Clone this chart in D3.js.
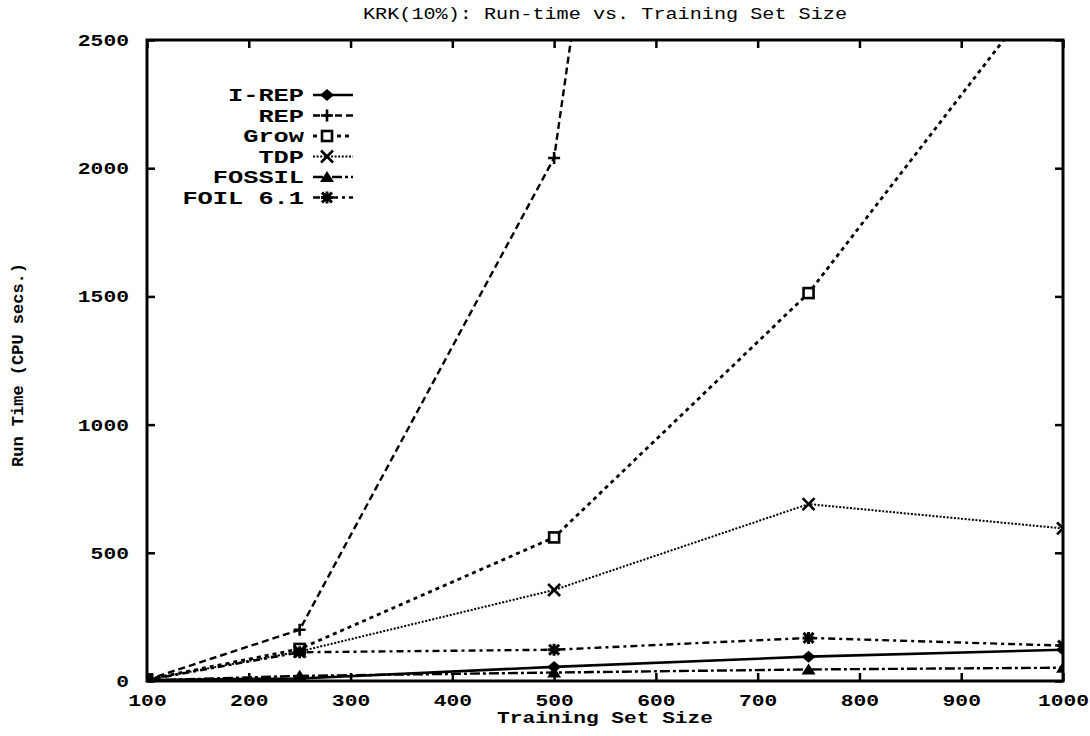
<!DOCTYPE html>
<html><head><meta charset="utf-8">
<script src="https://cdn.jsdelivr.net/npm/d3@7"></script>
<style>
html,body{margin:0;padding:0;background:#fff;}
svg{display:block;}
text{font-family:"Liberation Mono","DejaVu Sans Mono",monospace;fill:#000;}
</style></head>
<body>
<svg id="c" width="1090" height="736"></svg>
<script>
// ---- data ----
const sizes = [100, 250, 500, 750, 1000];
const irep   = [4, 10, 55, 95, 122];
const rep    = [5, 200, 2040, 9000, null];
const grow   = [6, 125, 560, 1513, 2800];
const tdp    = [5, 115, 355, 690, 595];
const fossil = [2, 20, 33, 45, 52];
const foil   = [4, 112, 122, 168, 138];
const seriesNames = ["I-REP", "REP", "Grow", "TDP", "FOSSIL", "FOIL 6.1"];
const xTicks = [100, 200, 300, 400, 500, 600, 700, 800, 900, 1000];
const yTicks = [0, 500, 1000, 1500, 2000, 2500];
const title = "KRK(10%): Run-time vs. Training Set Size";
const xTitle = "Training Set Size";
const yTitle = "Run Time (CPU secs.)";

// ---- styles ----
const styles = [
  {dash:null, w:2.6, marker:"diamond"},
  {dash:"7,4", w:2.4, marker:"plus"},
  {dash:"4,4", w:2.8, marker:"square"},
  {dash:"2,1.6", w:2, marker:"cross"},
  {dash:"10,3,3,3", w:2.4, marker:"triangle"},
  {dash:"7,4,3,4", w:2.4, marker:"star"}
];
const allSeries = [irep, rep, grow, tdp, fossil, foil];

const svg = d3.select("#c");
const L = 147, R = 1063, T = 40, B = 681;
const x = d3.scaleLinear().domain([100, 1000]).range([L, R]);
const y = d3.scaleLinear().domain([0, 2500]).range([B, T]);
const CW = 12.8; // stretched char width

function stretch(sel, cw) {
  sel.each(function() {
    const t = d3.select(this);
    const n = t.text().length;
    t.attr("textLength", n * cw).attr("lengthAdjust", "spacingAndGlyphs");
  });
}

// clip
svg.append("defs").append("clipPath").attr("id", "clip")
  .append("rect").attr("x", L).attr("y", T).attr("width", R - L).attr("height", B - T);

// axes
const gx = svg.append("g").attr("transform", `translate(0,${B})`)
  .call(d3.axisBottom(x).tickValues(xTicks).tickSize(-8).tickPadding(12).tickFormat(d3.format("d")));
const gxt = svg.append("g").attr("transform", `translate(0,${T})`)
  .call(d3.axisTop(x).tickValues(xTicks).tickSize(-8).tickFormat(""));
const gy = svg.append("g").attr("transform", `translate(${L},0)`)
  .call(d3.axisLeft(y).tickValues(yTicks).tickSize(-8).tickPadding(18).tickFormat(d3.format("d")));
const gyr = svg.append("g").attr("transform", `translate(${R},0)`)
  .call(d3.axisRight(y).tickValues(yTicks).tickSize(-8).tickFormat(""));
[gx, gxt, gy, gyr].forEach(g => {
  g.select(".domain").remove();
  g.selectAll("line").attr("stroke", "#000").attr("stroke-width", 2.5);
  g.selectAll("text").attr("font-size", 17).attr("font-weight", "bold").attr("font-family", "Liberation Mono");
});
gx.selectAll("text").attr("dy", "0.35em").attr("y", 19);
stretch(gx.selectAll("text"), CW);
stretch(gy.selectAll("text"), CW);

// frame
svg.append("rect").attr("x", L).attr("y", T).attr("width", R - L).attr("height", B - T)
  .attr("fill", "none").attr("stroke", "#000").attr("stroke-width", 3);

// titles
const tt = svg.append("text").attr("x", 605).attr("y", 19).attr("text-anchor", "middle")
  .attr("font-size", 16).text(title);
stretch(tt, 12.1);
const xt = svg.append("text").attr("x", 605).attr("y", 723).attr("text-anchor", "middle")
  .attr("font-size", 17).attr("font-weight", "bold").text(xTitle);
stretch(xt, 12.7);
svg.append("text").attr("transform", `translate(23,365) rotate(-90)`).attr("text-anchor", "middle")
  .attr("font-size", 17).attr("font-weight", "bold").text(yTitle);

// marker drawing
function drawMarker(g, type, cx, cy) {
  const s = 6;
  if (type === "diamond") {
    g.append("path").attr("d", `M${cx},${cy-s}L${cx+s+1},${cy}L${cx},${cy+s}L${cx-s-1},${cy}Z`).attr("fill", "#000");
  } else if (type === "plus") {
    g.append("path").attr("d", `M${cx-s},${cy}H${cx+s}M${cx},${cy-s}V${cy+s}`).attr("stroke", "#000").attr("stroke-width", 2.6).attr("fill", "none");
  } else if (type === "square") {
    g.append("rect").attr("x", cx-5).attr("y", cy-5).attr("width", 10).attr("height", 10)
      .attr("fill", "#fff").attr("stroke", "#000").attr("stroke-width", 2.6);
  } else if (type === "cross") {
    g.append("path").attr("d", `M${cx-s},${cy-s}L${cx+s},${cy+s}M${cx-s},${cy+s}L${cx+s},${cy-s}`).attr("stroke", "#000").attr("stroke-width", 2.6).attr("fill", "none");
  } else if (type === "triangle") {
    g.append("path").attr("d", `M${cx},${cy-s}L${cx+s+1},${cy+s-1}L${cx-s-1},${cy+s-1}Z`).attr("fill", "#000");
  } else if (type === "star") {
    g.append("path").attr("d", `M${cx-s},${cy}H${cx+s}M${cx},${cy-s}V${cy+s}M${cx-s+1},${cy-s+1}L${cx+s-1},${cy+s-1}M${cx-s+1},${cy+s-1}L${cx+s-1},${cy-s+1}`)
      .attr("stroke", "#000").attr("stroke-width", 3).attr("fill", "none");
  }
}

// series
const plot = svg.append("g").attr("clip-path", "url(#clip)");
allSeries.forEach((vals, i) => {
  const st = styles[i];
  const pts = sizes.map((s, k) => ({x: s, v: vals[k]}));
  const line = d3.line().defined(d => d.v != null).x(d => x(d.x)).y(d => y(d.v));
  plot.append("path").datum(pts).attr("d", line).attr("fill", "none")
    .attr("stroke", "#000").attr("stroke-width", st.w)
    .attr("stroke-dasharray", st.dash);
  pts.filter(d => d.v != null).forEach(d => drawMarker(plot, st.marker, x(d.x), y(d.v)));
});

// legend
const lg = svg.append("g");
seriesNames.forEach((name, i) => {
  const ly = 95 + i * 20.5;
  const t = lg.append("text").attr("x", 304).attr("y", ly).attr("dy", "0.35em")
    .attr("text-anchor", "end").attr("font-size", 18).attr("font-weight", "bold").text(name);
  stretch(t, 15.2);
  const st = styles[i];
  lg.append("line").attr("x1", 313).attr("x2", 353).attr("y1", ly).attr("y2", ly)
    .attr("stroke", "#000").attr("stroke-width", st.w).attr("stroke-dasharray", st.dash);
  drawMarker(lg, st.marker, 327, ly);
});
</script>
</body></html>
